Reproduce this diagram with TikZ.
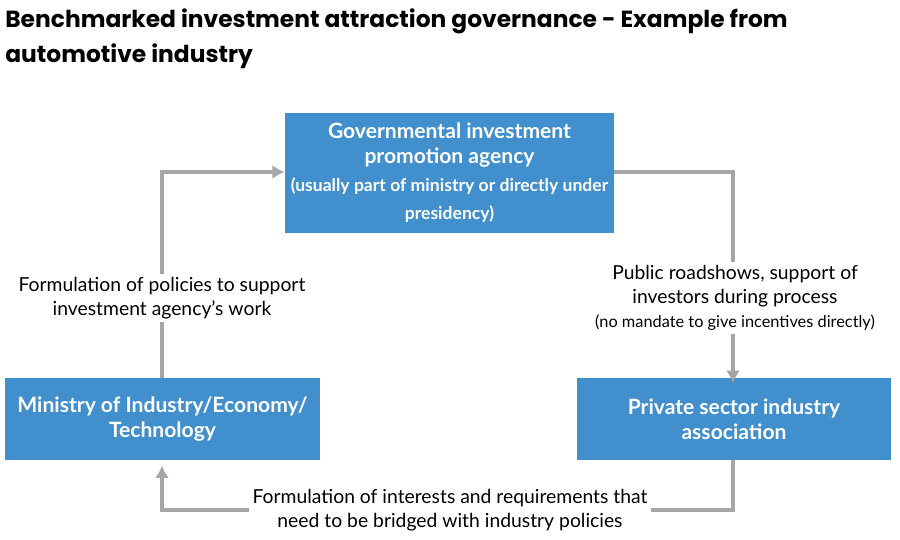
\documentclass[tikz,border=0pt]{standalone}
\usepackage{fontspec}
\setmainfont{Lato}
\newfontfamily\titlefont{Poppins}
\usetikzlibrary{positioning,arrows.meta}
\definecolor{boxblue}{HTML}{418FCD}
\definecolor{linegray}{HTML}{A6A6A6}
\tikzset{
  agencybox/.style={fill=boxblue, text=white, font=\bfseries\large, align=center},
  flow/.style={linegray, line width=1.8pt},
  flowlabel/.style={fill=white, align=center, font=\fontsize{11}{13.5}\selectfont, inner sep=2pt}
}
\begin{document}
\begin{tikzpicture}[x=0.02cm, y=-0.02cm]
        \useasboundingbox (0,0) rectangle (900,539);

        % Title
        \node[anchor=north west, align=left, font=\titlefont\bfseries\fontsize{13.3}{20}\selectfont, inner sep=0pt] (title) at (5,8)
          {Benchmarked investment attraction governance - Example from\\automotive industry};

        % Boxes
        \node[agencybox, minimum width=315*0.02cm, minimum height=120*0.02cm] (agency) at (449.5,173)
          {Governmental investment\\promotion agency\\[2pt]{\normalsize (usually part of ministry or directly under}\\[2pt]{\normalsize presidency)}};
        \node[agencybox, minimum width=315*0.02cm, minimum height=82*0.02cm] (ministry) at (162.5,419)
          {Ministry of Industry/Economy/\\Technology};
        \node[agencybox, minimum width=314*0.02cm, minimum height=82*0.02cm] (assoc) at (734,419)
          {Private sector industry\\association};

        % Corner points
        \coordinate (c1) at (162,172);
        \coordinate (c2) at (733,172);
        \coordinate (c3) at (733,510);
        \coordinate (c4) at (162,510);

        % Connectors
        \draw[flow, -{Latex[length=7pt,width=8pt]}] (ministry.north -| c1) -- (c1) -- (agency.west |- c1);
        \draw[flow, -{Latex[length=7pt,width=8pt]}] (agency.east |- c2) -- (c2) -- ([yshift=-3pt]assoc.north -| c2);
        \draw[flow, -{Latex[length=7pt,width=8pt]}] (assoc.south -| c3) -- (c3) -- (c4) -- ([yshift=-3pt]ministry.south -| c4);

        % Labels
        \node[flowlabel] (policies) at (162,298) {Formulation of policies to support\\investment agency's work};
        \node[flowlabel] (roadshows) at (735,298) {Public roadshows, support of\\investors during process\\{\fontsize{9.3}{12}\selectfont (no mandate to give incentives directly)}};
        \node[flowlabel] (interests) at (450,510) {Formulation of interests and requirements that\\need to be bridged with industry policies};
\end{tikzpicture}
\end{document}
